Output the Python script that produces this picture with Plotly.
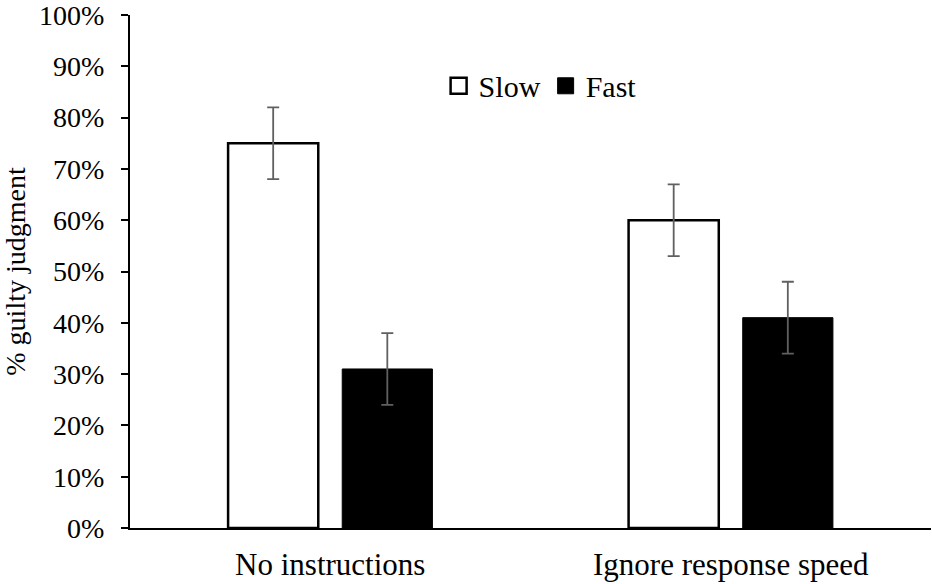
import plotly.graph_objects as go

categories = ["No instructions", "Ignore response speed"]
slow_values = [0.75, 0.60]
fast_values = [0.31, 0.41]
slow_err = [0.07, 0.07]
fast_err = [0.07, 0.07]
y_ticks = [i / 10 for i in range(11)]

FONT = "Liberation Serif"

fig = go.Figure()
fig.add_trace(go.Bar(
    name="Slow", x=categories, y=slow_values, showlegend=False,
    marker=dict(color="white", line=dict(color="black", width=2.5)),
    error_y=dict(type="data", array=slow_err, color="#606060", thickness=1.8, width=6),
))
fig.add_trace(go.Bar(
    name="Fast", x=categories, y=fast_values, showlegend=False,
    marker=dict(color="black", line=dict(color="black", width=1)),
    error_y=dict(type="data", array=fast_err, color="#606060", thickness=1.8, width=6),
))
# legend entries with larger square symbols
fig.add_trace(go.Scatter(
    name="Slow", x=[None], y=[None], mode="markers",
    marker=dict(symbol="square", size=16, color="white", line=dict(color="black", width=2.5)),
))
fig.add_trace(go.Scatter(
    name="Fast", x=[None], y=[None], mode="markers",
    marker=dict(symbol="square", size=16, color="black", line=dict(color="black", width=1)),
))

fig.update_layout(
    width=932, height=584,
    margin=dict(l=130, r=1, t=15, b=56),
    paper_bgcolor="white", plot_bgcolor="white",
    font=dict(family=FONT, size=28, color="black"),
    barmode="group", bargap=0.43, bargroupgap=0.21,
    showlegend=True,
    legend=dict(orientation="h", x=0.512, y=0.862, xanchor="center", yanchor="middle",
                font=dict(family=FONT, size=30, color="black"), bgcolor="rgba(0,0,0,0)",
                itemsizing="trace", itemwidth=30, tracegroupgap=0),
    xaxis=dict(showline=True, linecolor="black", linewidth=2, ticks="", showgrid=False,
               automargin=False, ticklabelstandoff=8,
               tickfont=dict(family=FONT, size=31, color="black")),
    yaxis=dict(range=[0, 1], tickvals=y_ticks, tickformat=".0%", showline=True,
               linecolor="black", linewidth=2, ticks="outside", ticklen=7,
               tickwidth=2, tickcolor="black", showgrid=False, zeroline=False,
               automargin=False, ticklabelstandoff=11, ticklabeloverflow="allow",
               tickfont=dict(family=FONT, size=28, color="black"),
               title=dict(text="% guilty judgment", standoff=6,
                          font=dict(family=FONT, size=28, color="black"))),
)

fig.write_html(
    "out.html",
    config={"displayModeBar": False},
    post_script="document.body.style.margin='0';document.body.style.overflow='hidden';",
)
